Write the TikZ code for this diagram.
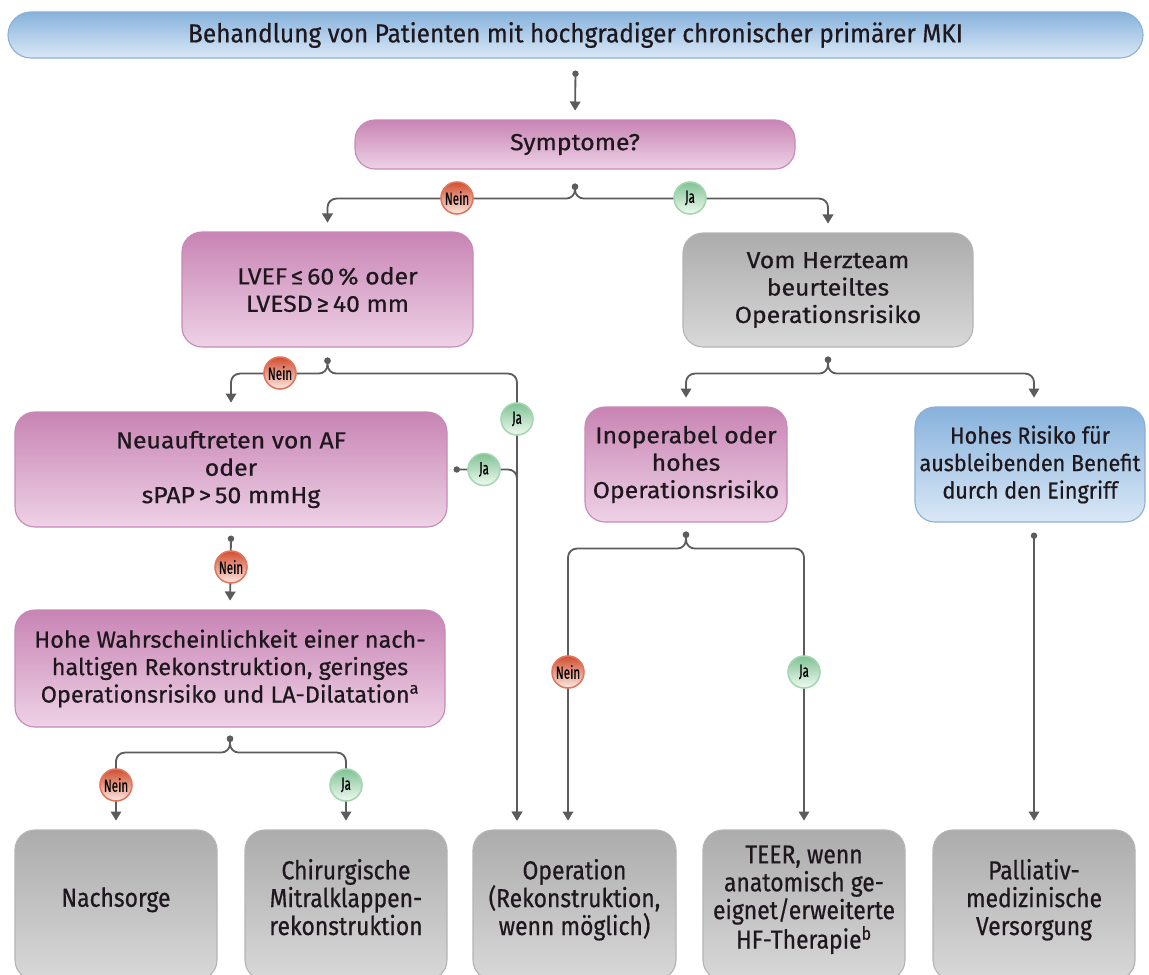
\documentclass[tikz,border=0pt]{standalone}
\usepackage{fontspec}
\setmainfont{Fira Sans}
\newfontfamily\kasttext[FakeStretch=1.07, FakeBold=0.6]{Fira Sans}
\newfontfamily\kastmittel[FakeStretch=1.01, FakeBold=0.6]{Fira Sans}
\newfontfamily\kastenge[FakeStretch=0.93, FakeBold=0.6]{Fira Sans}
\newfontfamily\schmal[FakeStretch=0.88, FakeBold=0.6]{Fira Sans}
\newfontfamily\titelschrift[FakeStretch=0.94, FakeBold=0.6]{Fira Sans}
\newfontfamily\knopf[FakeStretch=0.66, FakeBold=0.3]{Fira Sans}
\usetikzlibrary{arrows.meta,shadings}

\definecolor{rosaoben}{RGB}{200,132,180}
\definecolor{rosaunten}{RGB}{238,210,230}
\definecolor{rosarand}{RGB}{198,138,182}
\definecolor{grauoben}{RGB}{172,172,172}
\definecolor{grauunten}{RGB}{216,216,216}
\definecolor{graurand}{RGB}{180,180,180}
\definecolor{blauoben}{RGB}{135,178,220}
\definecolor{blauunten}{RGB}{218,232,246}
\definecolor{blaurand}{RGB}{140,175,212}
\definecolor{linie}{RGB}{92,92,92}
\definecolor{schrift}{RGB}{30,24,30}
\definecolor{neinoben}{RGB}{210,78,48}
\definecolor{neinunten}{RGB}{250,232,226}
\definecolor{neinrand}{RGB}{226,118,92}
\definecolor{jaoben}{RGB}{128,194,148}
\definecolor{jaunten}{RGB}{240,250,242}
\definecolor{jarand}{RGB}{164,214,176}

\begin{document}
\begin{tikzpicture}[x=0.025cm, y=-0.025cm]

  % ── Stile ─────────────────────────────────────────────────────
  \tikzset{
    kasten/.style 2 args = {rounded corners=0.5cm, minimum width=#1*0.025cm,
      minimum height=#2*0.025cm, inner sep=0pt, align=center, text=schrift,
      line width=0.8pt, font=\kasttext\fontsize{16.5}{19.5}\selectfont},
    frage/.style = {top color=rosaoben, bottom color=rosaunten, draw=rosarand},
    grau/.style = {top color=grauoben, bottom color=grauunten, draw=graurand},
    hinweis/.style = {top color=blauoben, bottom color=blauunten, draw=blaurand},
    schmaltext/.style = {font=\schmal\fontsize{18.5}{19.8}\selectfont, text depth=0.4cm},
    pfeil/.style = {draw=linie, line width=1.3pt, rounded corners=0.22cm,
      {Circle[length=4.5pt]}-{Triangle[length=6.5pt, width=7.5pt]},
      shorten >=0.22cm},
    nein/.style = {circle, minimum size=0.8cm, inner sep=0pt, top color=neinoben,
      bottom color=neinunten, draw=neinrand, line width=1.1pt, text=black,
      font=\knopf\fontsize{12.5}{13}\selectfont},
    ja/.style = {nein, top color=jaoben, bottom color=jaunten, draw=jarand}
  }

  \clip (0,0) rectangle (1149,974);

  % =========================================================
  % 1. KAESTEN
  % =========================================================
  \node[kasten={1135}{46}, hinweis, rounded corners=0.575cm,
        font=\titelschrift\fontsize{18.5}{20}\selectfont] (titel) at (575.5,35)
    {Behandlung von Patienten mit hochgradiger chronischer primärer MKI};
  \node[kasten={440}{49}, frage] (sym) at (575,144.5) {Symptome?};

  \node[kasten={291}{115}, frage] (lvef) at (327.5,289.5)
    {LVEF\,≤\,60\,\% oder\\LVESD\,≥\,40 mm};
  \node[kasten={290}{114}, grau] (herz) at (828,290)
    {Vom Herzteam\\beurteiltes\\Operationsrisiko};

  \node[kasten={432}{115}, frage] (neu) at (231,469.5)
    {Neuauftreten von AF\\oder\\sPAP\,>\,50 mmHg};
  \node[kasten={202}{115}, frage] (inop) at (686,464.5)
    {Inoperabel oder\\hohes\\Operationsrisiko};
  \node[kasten={230}{115}, hinweis, font=\kastenge\fontsize{16.5}{19.5}\selectfont] (risiko) at (1030,464.5)
    {Hohes Risiko für\\ausbleibenden Benefit\\durch den Eingriff};

  \node[kasten={430}{117}, frage, font=\kastmittel\fontsize{16.5}{19.5}\selectfont] (hohe) at (230,668.5)
    {Hohe Wahrscheinlichkeit einer nach-\\haltigen Rekonstruktion, geringes\\Operationsrisiko und LA-Dilatation\textsuperscript{a}};

  % untere Reihe (Ergebnisse)
  \node[kasten={202}{150}, grau, schmaltext] (nach) at (116,905) {Nachsorge};
  \node[kasten={202}{150}, grau, schmaltext] (chir) at (346,905)
    {Chirurgische\\Mitralklappen-\\rekonstruktion};
  \node[kasten={203}{150}, grau, schmaltext] (oper) at (574.5,905)
    {Operation\\(Rekonstruktion,\\wenn möglich)};
  \node[kasten={202}{150}, grau, schmaltext] (teer) at (804,905)
    {TEER, wenn\\anatomisch ge-\\eignet/erweiterte\\HF-Therapie\textsuperscript{b}};
  \node[kasten={202}{150}, grau, schmaltext] (pall) at (1034,905)
    {Palliativ-\\medizinische\\Versorgung};

  % =========================================================
  % 2. VERBINDUNGEN
  % =========================================================
  \coordinate (titelaus) at ([yshift=-0.3cm]titel.south);
  \coordinate (symaus) at ([yshift=-0.35cm]sym.south);
  \coordinate (lvefaus) at ([yshift=-0.25cm]lvef.south);
  \coordinate (herzaus) at ([yshift=-0.225cm]herz.south);
  \coordinate (neuaus) at ([yshift=-0.2cm]neu.south);
  \coordinate (neuja) at ([xshift=0.15cm]neu.east);
  \coordinate (inopaus) at ([yshift=-0.225cm]inop.south);
  \coordinate (risikoaus) at ([xshift=0.1cm, yshift=-0.25cm]risiko.south);
  \coordinate (hoheaus) at ([yshift=-0.2cm]hohe.south);
  \coordinate (opja) at ([xshift=-1.4375cm]oper.north);
  \coordinate (opnein) at ([xshift=-0.1625cm]oper.north);

  \draw[pfeil] (titelaus) -- (sym.north);

  \draw[pfeil] (symaus) -- ++(0,15) -| (lvef.north);
  \draw[pfeil] (symaus) -- ++(0,15) -| (herz.north);

  \draw[pfeil] (lvefaus) -- ++(0,16) -| (neu.north);
  \draw[pfeil] (lvefaus) -- ++(0,16) -| (opja);
  \draw[pfeil] (neuja) -| (opja);
  \draw[pfeil] (neuaus) -- (hohe.north);

  \draw[pfeil] (hoheaus) -- ++(0,17) -| (nach.north);
  \draw[pfeil] (hoheaus) -- ++(0,17) -| (chir.north);

  \draw[pfeil] (herzaus) -- ++(0,17) -| (inop.north);
  \draw[pfeil] (herzaus) -- ++(0,17) -| ([xshift=0.1cm]risiko.north);

  \draw[pfeil] (inopaus) -- ++(0,17) -| (opnein);
  \draw[pfeil] (inopaus) -- ++(0,17) -| (teer.north);
  \draw[pfeil] (risikoaus) -- (pall.north);

  % Ja/Nein-Marken auf den Linien
  \node[nein] (m1) at (457,198) {Nein};
  \node[ja] (m2) at (690,198) {Ja};
  \node[nein] (m3) at (280,373) {Nein};
  \node[ja] (m4) at (517,419) {Ja};
  \node[ja] (m5) at (484,469.5) {Ja};
  \node[nein] (m6) at (231,567) {Nein};
  \node[nein] (m7) at (116,785) {Nein};
  \node[ja] (m8) at (346,785) {Ja};
  \node[nein] (m9) at (568,672) {Nein};
  \node[ja] (m10) at (804,672) {Ja};

\end{tikzpicture}
\end{document}
